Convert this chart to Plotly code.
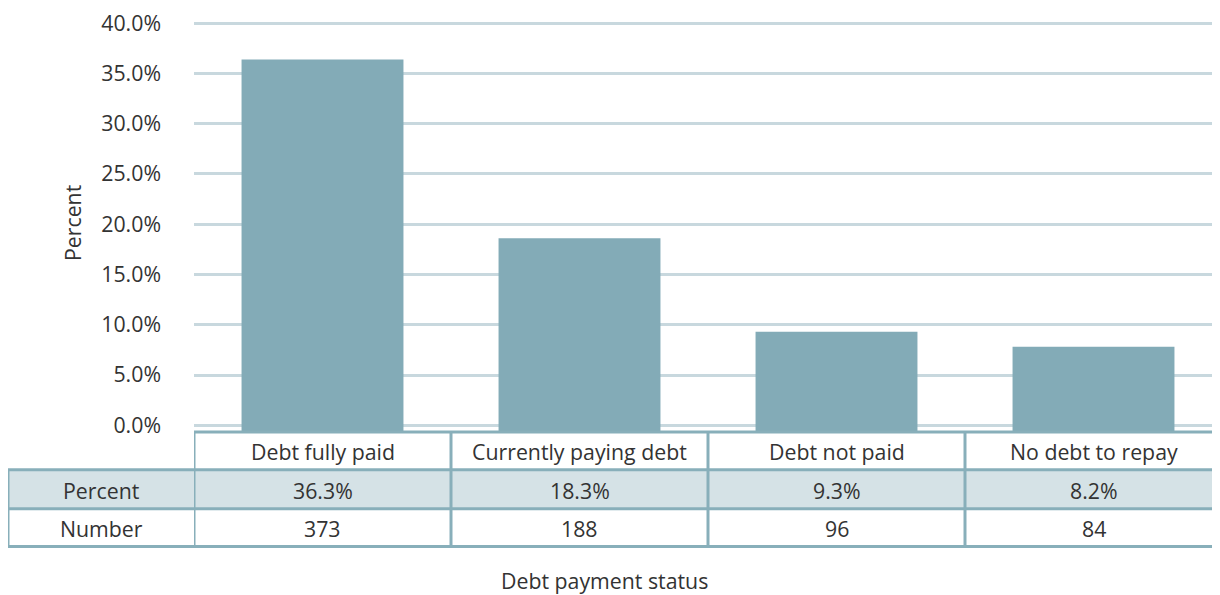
import plotly.graph_objects as go

categories = ["Debt fully paid", "Currently paying debt", "Debt not paid", "No debt to repay"]
bar_values = [36.4, 18.6, 9.3, 7.8]          # bar heights as drawn in the picture
percent_labels = ["36.3%", "18.3%", "9.3%", "8.2%"]  # table row "Percent"
number_values = [373, 188, 96, 84]            # table row "Number"
row_labels = ["Percent", "Number"]
y_tick_vals = [0, 5, 10, 15, 20, 25, 30, 35, 40]
y_tick_text = ["0.0%", "5.0%", "10.0%", "15.0%", "20.0%", "25.0%", "30.0%", "35.0%", "40.0%"]

W, H = 1212, 595
O = 8  # page body offset (screen = figure + 8)
ML, MR, MT, MB = 186, 0, 11, 170
plot_h = H - MT - MB
plot_w = W - ML - MR
COL_W = 257.0  # px per category column
SCALE = 10.1   # px per percent
Y_MIN = -0.77
Y_MAX = Y_MIN + plot_h / SCALE
X_MIN = -0.5
X_MAX = X_MIN + plot_w / COL_W

def py(screen_y):
    return (H - MB - (screen_y - O)) / plot_h

def px(screen_x):
    return ((screen_x - O) - ML) / plot_w

BAR = "#83abb7"
GRID = "#c8d8de"
BORDER = "#88afba"
FILL = "#d5e2e6"
TXT = "#333333"
FONT = "Open Sans"
FS = 21.3

fig = go.Figure()
fig.add_trace(go.Bar(x=list(range(len(categories))),
                     y=[v - Y_MIN for v in bar_values],
                     base=[Y_MIN] * len(bar_values),
                     marker=dict(color=BAR, line=dict(width=0)),
                     hoverinfo="skip"))

shapes = []
annotations = []

row_y = [432, 470, 509, 547]
left_x = px(8)
n = len(categories)

shapes.append(dict(type="rect", xref="paper", yref="paper", x0=left_x, x1=1.0,
                   y0=py(row_y[2]), y1=py(row_y[1]), fillcolor=FILL,
                   line=dict(width=0), layer="below"))
shapes.append(dict(type="line", xref="x", yref="paper", x0=-0.5, x1=n - 0.5,
                   y0=py(row_y[0]), y1=py(row_y[0]), line=dict(color=BORDER, width=3)))
for ry in row_y[1:]:
    shapes.append(dict(type="line", xref="paper", yref="paper", x0=left_x, x1=1.0,
                       y0=py(ry), y1=py(ry), line=dict(color=BORDER, width=3)))
for i in range(n):
    shapes.append(dict(type="line", xref="x", yref="paper", x0=i - 0.5, x1=i - 0.5,
                       y0=py(row_y[0]), y1=py(row_y[3]), line=dict(color=BORDER, width=3)))
shapes.append(dict(type="line", xref="paper", yref="paper", x0=left_x, x1=left_x,
                   y0=py(row_y[1]), y1=py(row_y[3]), line=dict(color=BORDER, width=3)))

def cell_text(xref, x, y, text):
    annotations.append(dict(xref=xref, yref="paper", x=x, y=y, text=text,
                            showarrow=False, xanchor="center", yanchor="middle",
                            font=dict(family=FONT, size=FS, color=TXT)))

for i, c in enumerate(categories):
    cell_text("x", i, py((row_y[0] + row_y[1]) / 2 + 1), c)
    cell_text("x", i, py((row_y[1] + row_y[2]) / 2 + 1), percent_labels[i])
    cell_text("x", i, py((row_y[2] + row_y[3]) / 2 + 1), str(number_values[i]))

label_cx = px((8 + 194) / 2)
cell_text("paper", label_cx, py((row_y[1] + row_y[2]) / 2 + 1), row_labels[0])
cell_text("paper", label_cx, py((row_y[2] + row_y[3]) / 2 + 1), row_labels[1])

annotations.append(dict(xref="paper", yref="paper", x=px(604), y=py(581),
                        text="Debt payment status", showarrow=False,
                        xanchor="center", yanchor="middle",
                        font=dict(family=FONT, size=FS, color=TXT)))
annotations.append(dict(xref="paper", yref="paper", x=px(72), y=py(222),
                        text="Percent", showarrow=False, textangle=-90,
                        xanchor="center", yanchor="middle",
                        font=dict(family=FONT, size=FS, color=TXT)))

fig.update_layout(
    width=W, height=H,
    margin=dict(l=ML, r=MR, t=MT, b=MB, pad=0),
    paper_bgcolor="white", plot_bgcolor="white",
    showlegend=False, bargap=0.37,
    font=dict(family=FONT, size=FS, color=TXT),
    xaxis=dict(range=[X_MIN, X_MAX], showticklabels=False, showgrid=False,
               zeroline=False, showline=False, ticks=""),
    yaxis=dict(range=[Y_MIN, Y_MAX], tickvals=y_tick_vals, ticktext=y_tick_text,
               showgrid=True, gridcolor=GRID, gridwidth=2.5, zeroline=False,
               showline=False, ticks="", ticklabelstandoff=32,
               ticklabeloverflow="allow",
               tickfont=dict(family=FONT, size=FS, color=TXT)),
    shapes=shapes, annotations=annotations,
)

fig.write_html("out.html")
